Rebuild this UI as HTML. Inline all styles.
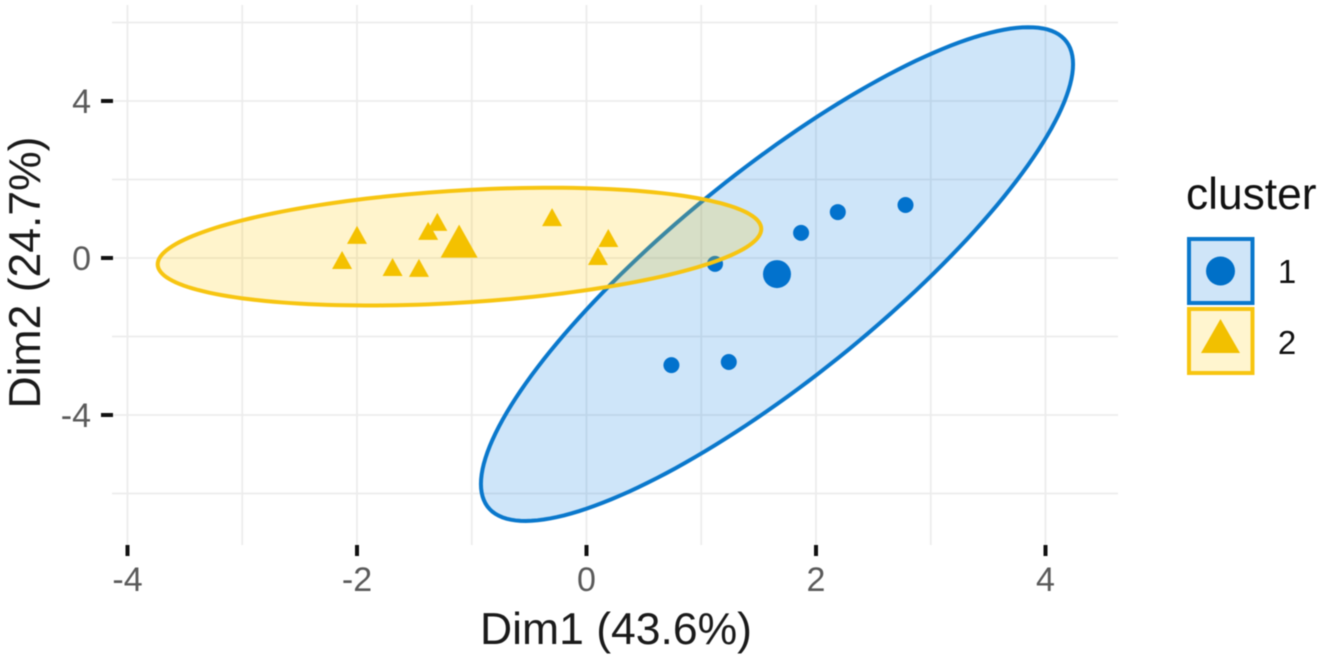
<!DOCTYPE html>
<html lang="en">
<head>
<meta charset="utf-8">
<title>Cluster plot</title>
<style>
html,body{margin:0;padding:0;background:#fff;}
svg{display:block;font-family:"Liberation Sans",sans-serif;filter:blur(0.4px);}
</style>
</head>
<body>
<svg id="chart" width="1321" height="655" viewBox="0 0 1321 655" xmlns="http://www.w3.org/2000/svg">
  <rect x="0" y="0" width="1321" height="655" fill="#ffffff"/>
  <g id="grid"></g>
  <g id="points"></g>
  <g id="ellipses"></g>
  <g id="axes"></g>
  <text x="616" y="644" font-size="44.5" fill="#1a1a1a" text-anchor="middle">Dim1 (43.6%)</text>
  <text transform="translate(40,272.5) rotate(-90)" font-size="44.5" fill="#1a1a1a" text-anchor="middle">Dim2 (24.7%)</text>
  <g>
    <text x="1186" y="209" font-size="44.3" fill="#111111">cluster</text>
    <g>
      <rect x="1189" y="239" width="63.5" height="64" fill="#cfe5f8" stroke="#0A78CC" stroke-width="4"/>
      <circle cx="1220.5" cy="271" r="14.5" fill="#0070C8"/>
      <text x="1287" y="283" font-size="33" fill="#111111" text-anchor="middle">1</text>
    </g>
    <g>
      <rect x="1189" y="309" width="63.5" height="64" fill="#fff5cf" stroke="#F7C511" stroke-width="4"/>
      <polygon points="1220.5,319 1240,353 1201,353" fill="#F2C000"/>
      <text x="1287" y="354" font-size="33" fill="#111111" text-anchor="middle">2</text>
    </g>
  </g>
</svg>
<script>
// Chart data
const xMajorTicks = [-4, -2, 0, 2, 4];
const yMajorTicks = [-4, 0, 4];
const xMinorGrid = [-3, -1, 1, 3];
const yMinorGrid = [-6, -2, 2, 6];
const cluster1X = [0.74, 1.24, 1.12, 1.87, 2.19, 2.78];
const cluster1Y = [-2.73, -2.65, -0.15, 0.64, 1.17, 1.35];
const cluster2X = [-2.13, -2.00, -1.69, -1.46, -1.38, -1.30, -0.30, 0.19, 0.10];
const cluster2Y = [-0.05, 0.59, -0.23, -0.25, 0.69, 0.92, 1.04, 0.51, 0.05];
const cluster1Center = [1.66, -0.41];
const cluster2Center = [-1.11, 0.43];
const ellipse1 = [1.66, -0.41, 2.58, 6.29, 0.85];
const ellipse2 = [-1.107, 0.29, 2.63, 1.50, 0.30];

const NS = 'http://www.w3.org/2000/svg';
const sx = v => 586.5 + v * 114.75;
const sy = v => 258 - v * 39.25;
const PANEL = {l: 112, r: 1118, t: 5, b: 545};

function make(tag, attrs, parent) {
  const el = document.createElementNS(NS, tag);
  for (const k in attrs) el.setAttribute(k, attrs[k]);
  parent.appendChild(el);
  return el;
}

const grid = document.getElementById('grid');
xMajorTicks.concat(xMinorGrid).forEach(v => {
  const el = make('line', {x1: sx(v), x2: sx(v), y1: PANEL.t, y2: PANEL.b, stroke: '#ececec', 'stroke-width': 1.8}, grid);
  
  
});
yMajorTicks.concat(yMinorGrid).forEach(v => {
  const el = make('line', {x1: PANEL.l, x2: PANEL.r, y1: sy(v), y2: sy(v), stroke: '#ececec', 'stroke-width': 1.8}, grid);
  
  
});

function ellipsePath(e) {
  const [cx, cy, ax, ay, rho] = e;
  const d = Math.asin(rho);
  let s = '';
  for (let i = 0; i < 180; i++) {
    const t = i / 180 * 2 * Math.PI;
    const x = cx + ax * Math.cos(t);
    const y = cy + ay * Math.sin(t + d);
    s += (i ? 'L' : 'M') + sx(x).toFixed(2) + ' ' + sy(y).toFixed(2);
  }
  return s + 'Z';
}

const ellipseLayer = document.getElementById('ellipses');
const e1 = make('path', {d: ellipsePath(ellipse1), fill: '#0A7FE0', 'fill-opacity': 0.2, stroke: '#0A78CC', 'stroke-width': 4}, ellipseLayer);


const e2 = make('path', {d: ellipsePath(ellipse2), fill: '#FFC800', 'fill-opacity': 0.2, stroke: '#F7C511', 'stroke-width': 4}, ellipseLayer);



const pointLayer = document.getElementById('points');
function triangle(px, py, w, h) {
  return `${px},${py - h / 2} ${px + w / 2},${py + h / 2} ${px - w / 2},${py + h / 2}`;
}
cluster1X.forEach((v, i) => {
  const el = make('circle', {cx: sx(v), cy: sy(cluster1Y[i]), r: 8, fill: '#0070C8'}, pointLayer);
  
  
});
const c1 = make('circle', {cx: sx(cluster1Center[0]), cy: sy(cluster1Center[1]), r: 14, fill: '#0070C8'}, pointLayer);


cluster2X.forEach((v, i) => {
  const el = make('polygon', {points: triangle(sx(v), sy(cluster2Y[i]), 20, 18), fill: '#F2C000'}, pointLayer);
  
  
});
const c2 = make('polygon', {points: triangle(sx(cluster2Center[0]), sy(cluster2Center[1]), 37, 33), fill: '#F2C000'}, pointLayer);



const axes = document.getElementById('axes');
xMajorTicks.forEach(v => {
  const tick = make('rect', {x: sx(v) - 2, y: 545, width: 4, height: 11, fill: '#111111'}, axes);
  
  
  const label = make('text', {x: sx(v), y: 591, 'font-size': 34, fill: '#5a5a5a', 'text-anchor': 'middle'}, axes);
  
  
  label.textContent = String(v);
});
yMajorTicks.forEach(v => {
  const tick = make('rect', {x: 101, y: sy(v) - 2, width: 12, height: 4, fill: '#111111'}, axes);
  
  
  const label = make('text', {x: 91, y: sy(v) + 12, 'font-size': 34, fill: '#5a5a5a', 'text-anchor': 'end'}, axes);
  
  
  label.textContent = String(v);
});
</script>
</body>
</html>
